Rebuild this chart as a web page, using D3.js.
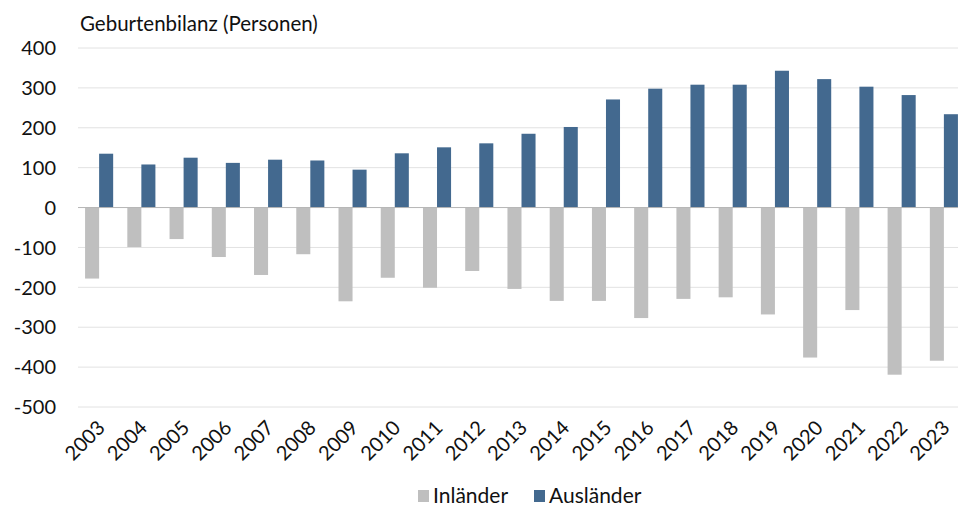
<!DOCTYPE html>
<html>
<head>
<meta charset="utf-8">
<script src="https://cdn.jsdelivr.net/npm/d3@7"></script>
<style>
  body { margin: 0; background: #fff; }
  svg { display: block; font-family: Lato, "Open Sans", sans-serif; }
</style>
</head>
<body>
<svg id="chart" width="958" height="506"></svg>
<script>
// data
const years = ["2003","2004","2005","2006","2007","2008","2009","2010","2011","2012","2013",
  "2014","2015","2016","2017","2018","2019","2020","2021","2022","2023"];
const inlaender = [-178,-99,-79,-124,-169,-117,-235,-176,-201,-159,-204,
  -234,-234,-277,-229,-225,-268,-376,-257,-419,-384];
const auslaender = [135,108,125,112,120,118,95,136,151,161,185,
  202,271,298,308,308,343,322,303,282,234];
const yTicks = [400,300,200,100,0,-100,-200,-300,-400,-500];
const seriesNames = ["Inländer","Ausländer"];
const colors = ["#bfbfbf","#43698f"];

const margin = { top: 48, left: 78, right: -7, bottom: 99 };
const width = 958, height = 506;

const svg = d3.select("#chart");

const x = d3.scaleBand()
  .domain(years)
  .range([margin.left, width - margin.right])
  .paddingInner(0.335)
  .paddingOuter(0.1675);

const x1 = d3.scaleBand()
  .domain(seriesNames)
  .range([0, x.bandwidth()]);

const y = d3.scaleLinear()
  .domain([-500, 400])
  .range([height - margin.bottom, margin.top]);

// gridlines
svg.append("g")
  .selectAll("line")
  .data(yTicks.filter(d => d !== 0))
  .join("line")
  .attr("x1", margin.left)
  .attr("x2", width)
  .attr("y1", d => y(d))
  .attr("y2", d => y(d))
  .attr("stroke", "#e2e2e2")
  .attr("stroke-width", 1);

// y axis labels
svg.append("g")
  .selectAll("text")
  .data(yTicks)
  .join("text")
  .attr("x", 56)
  .attr("y", d => y(d))
  .attr("dy", "0.36em")
  .attr("text-anchor", "end")
  .attr("font-size", 20)
  .attr("fill", "#111")
  .text(d => d);

// bars
const rows = years.map((yr, i) => ({ year: yr, values: [inlaender[i], auslaender[i]] }));

const groups = svg.append("g")
  .selectAll("g")
  .data(rows)
  .join("g")
  .attr("transform", d => `translate(${x(d.year)},0)`);

groups.selectAll("rect")
  .data(d => d.values.map((v, k) => ({ key: seriesNames[k], value: v, k: k })))
  .join("rect")
  .attr("x", d => x1(d.key))
  .attr("width", x1.bandwidth())
  .attr("y", d => y(Math.max(0, d.value)))
  .attr("height", d => Math.abs(y(d.value) - y(0)))
  .attr("fill", d => colors[d.k]);

// zero line
svg.append("line")
  .attr("x1", margin.left)
  .attr("x2", width)
  .attr("y1", y(0))
  .attr("y2", y(0))
  .attr("stroke", "#b5b5b5")
  .attr("stroke-width", 1);

// x axis labels (rotated)
svg.append("g")
  .selectAll("text")
  .data(years)
  .join("text")
  .attr("transform", d => `translate(${x(d) + x.bandwidth() / 2 + 7},${y(-500) + 22}) rotate(-45)`)
  .attr("text-anchor", "end")
  .attr("font-size", 20)
  .attr("fill", "#111")
  .text(d => d);

// title
svg.append("text")
  .attr("x", 80)
  .attr("y", 31)
  .attr("font-size", 20.5)
  .attr("fill", "#111")
  .text("Geburtenbilanz (Personen)");

// legend
const legend = svg.append("g").attr("transform", "translate(418,503)");
const legendX = [0, 116];
seriesNames.forEach((name, k) => {
  const g = legend.append("g").attr("transform", `translate(${legendX[k]},0)`);
  g.append("rect")
    .attr("x", 0)
    .attr("y", -13)
    .attr("width", 11)
    .attr("height", 12)
    .attr("fill", colors[k]);
  g.append("text")
    .attr("x", 15)
    .attr("y", 0)
    .attr("font-size", 21)
    .attr("fill", "#111")
    .text(name);
});
</script>
</body>
</html>
